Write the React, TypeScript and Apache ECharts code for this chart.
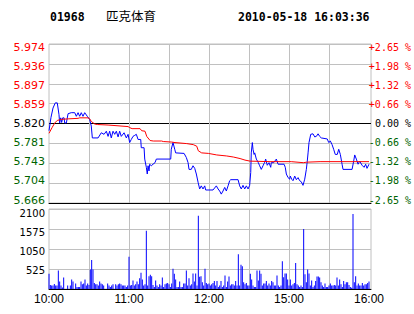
import React, { useEffect, useRef } from 'react';
import * as echarts from 'echarts';

const STOCK_CODE = '01968';
const STOCK_NAME = '匹克体育';
const TIMESTAMP = '2010-05-18 16:03:36';
const PREV_CLOSE = 5.82;
const PCT_RANGE = 2.65;
const PCT_STEP = 0.6625;

const PRICE_TICK_LABELS = ['5.666', '5.704', '5.743', '5.781', '5.820', '5.859', '5.897', '5.936', '5.974'];
const PCT_TICK_LABELS = ['-2.65 %', '-1.98 %', '-1.32 %', '-0.66 %', '0.00 %', '+0.66 %', '+1.32 %', '+1.98 %', '+2.65 %'];
const VOLUME_MAX = 2100;
const VOLUME_STEP = 525;
const VOLUME_TICK_LABELS = ['', '525', '1050', '1575', '2100'];
const TIME_TICK_MINUTES = [0, 60, 120, 180, 240];
const TIME_TICK_LABELS = ['10:00', '11:00', '12:00', '15:00', '16:00'];
const SESSION_MINUTES = 240;

// price line vertices: minute from 10:00 (trading minutes), price
const PRICE_MINUTES = [
  0, 1.5, 3, 4.7, 6.2, 7.5, 8, 8.8, 9.5, 10.3, 11.3, 11.8, 13, 14.3, 16.7, 19.3, 20.5, 21.8, 23, 24.2,
  25.5, 26.8, 28.7, 30.5, 31.7, 32.5, 36.8, 39.2, 41.3, 43, 44.3, 45.5, 46.7, 48, 49.3, 50.5, 51.8, 53, 54.2, 56.3,
  58, 59.3, 60.5, 61.7, 63, 64.3, 65.5, 66.8, 68.8, 69.2, 71.3, 71.8, 73, 73.7, 74.3, 75, 75.5, 76.7, 78, 79.5,
  80.5, 91.3, 91.7, 93, 94.3, 95, 101.3, 103, 104.3, 105, 106.7, 108, 109.3, 110.5, 111.8, 113, 114.2, 115.5, 116.8, 117.5,
  123, 125.5, 126.8, 128, 129.2, 130.5, 131.8, 133, 134.3, 135.5, 136.3, 141.8, 143, 144.2, 145.5, 146.8, 148, 149.3, 150.5, 151.3,
  151.7, 152.5, 153, 153.8, 154.3, 155.5, 156.8, 158, 159.2, 160.5, 161.8, 162.5, 163.7, 165, 166.3, 166.7, 168.5, 170.5, 171.8, 176.3,
  177.2, 178, 179.3, 180.5, 181, 182, 183, 184.3, 185.5, 186.8, 188, 189.2, 190.5, 191.8, 193, 193.7, 194.3, 195, 196.3, 198,
  199.3, 200.5, 201.8, 203, 204.2, 208.7, 209.8, 211, 212.3, 213.5, 214.7, 216.2, 217.3, 218.5, 219.8, 220.5, 227.3, 228.5, 229.3, 230.5,
  231.8, 233, 234.8, 236.3, 237.5, 238.5, 240,
];
const PRICE_VALUES = [
  5.806, 5.832, 5.85, 5.86, 5.86, 5.837, 5.821, 5.831, 5.822, 5.831, 5.831, 5.821, 5.821, 5.839, 5.841, 5.841, 5.834, 5.841, 5.834, 5.841,
  5.834, 5.841, 5.834, 5.828, 5.815, 5.792, 5.792, 5.802, 5.799, 5.805, 5.795, 5.805, 5.792, 5.805, 5.799, 5.805, 5.794, 5.805, 5.795, 5.802,
  5.792, 5.799, 5.783, 5.789, 5.795, 5.797, 5.799, 5.789, 5.789, 5.773, 5.773, 5.751, 5.735, 5.722, 5.738, 5.728, 5.741, 5.738, 5.741, 5.744,
  5.751, 5.751, 5.77, 5.783, 5.77, 5.763, 5.762, 5.754, 5.744, 5.731, 5.731, 5.738, 5.733, 5.722, 5.706, 5.693, 5.699, 5.693, 5.699, 5.691,
  5.691, 5.699, 5.693, 5.689, 5.683, 5.689, 5.696, 5.689, 5.699, 5.709, 5.711, 5.711, 5.699, 5.693, 5.7, 5.693, 5.699, 5.693, 5.7, 5.725,
  5.763, 5.783, 5.77, 5.76, 5.763, 5.751, 5.745, 5.738, 5.731, 5.738, 5.745, 5.751, 5.739, 5.744, 5.735, 5.744, 5.744, 5.751, 5.741, 5.741,
  5.735, 5.722, 5.715, 5.712, 5.718, 5.712, 5.709, 5.718, 5.711, 5.715, 5.709, 5.707, 5.7, 5.712, 5.731, 5.747, 5.763, 5.783, 5.799, 5.8,
  5.794, 5.795, 5.8, 5.795, 5.792, 5.79, 5.783, 5.786, 5.779, 5.77, 5.76, 5.76, 5.77, 5.76, 5.741, 5.731, 5.731, 5.747, 5.759, 5.751,
  5.741, 5.747, 5.739, 5.735, 5.741, 5.733, 5.741,
];

// average price line vertices
const AVG_MINUTES = [
  0, 2.3, 4.3, 6.2, 9.2, 14.3, 21.8, 23, 29.3, 30.5, 31.7, 34.3, 36.2, 44.3, 59.3, 60.5, 62.3, 68.3, 69.5, 72,
  73.3, 75.8, 78.2, 84.5, 85.7, 92, 94.5, 103.3, 108.2, 110.8, 112, 114.5, 119.5, 125.8, 133.3, 138.2, 143.3, 147, 150.8, 165.8,
  181.7, 190.7, 193.3, 203.3, 240,
];
const AVG_VALUES = [
  5.801, 5.812, 5.821, 5.826, 5.828, 5.829, 5.83, 5.831, 5.831, 5.829, 5.824, 5.819, 5.818, 5.817, 5.814, 5.812, 5.81, 5.81, 5.806, 5.805,
  5.795, 5.787, 5.786, 5.786, 5.785, 5.784, 5.783, 5.781, 5.779, 5.776, 5.767, 5.763, 5.762, 5.759, 5.757, 5.755, 5.752, 5.749, 5.747, 5.746,
  5.746, 5.744, 5.745, 5.746, 5.746,
];

// volume per trading minute (index 0 = 10:00)
const VOLUMES = [
  400, 106, 89, 89, 133, 89, 89, 487, 195, 89,
  40, 301, 0, 0, 89, 0, 89, 248, 195, 0,
  142, 53, 53, 53, 195, 124, 142, 248, 89, 142,
  106, 514, 760, 514, 160, 124, 124, 89, 195, 142,
  124, 89, 0, 0, 142, 89, 53, 89, 124, 0,
  124, 89, 124, 142, 124, 89, 89, 89, 53, 89,
  848, 89, 106, 221, 89, 124, 195, 124, 283, 425,
  248, 89, 124, 1530, 89, 337, 372, 337, 106, 53,
  221, 89, 53, 124, 89, 301, 53, 124, 142, 160,
  124, 53, 142, 531, 400, 248, 53, 53, 195, 53,
  53, 142, 142, 487, 89, 283, 89, 124, 407, 195,
  407, 89, 1920, 319, 337, 177, 89, 531, 160, 124,
  142, 89, 124, 160, 213, 89, 213, 53, 89, 213,
  53, 89, 354, 53, 195, 328, 89, 124, 124, 89,
  213, 89, 913, 89, 638, 594, 177, 124, 160, 89,
  89, 399, 248, 89, 53, 53, 487, 221, 487, 399,
  89, 142, 142, 213, 89, 142, 89, 213, 177, 89,
  89, 354, 89, 53, 89, 726, 310, 407, 407, 248,
  89, 248, 89, 124, 160, 680, 124, 89, 53, 89,
  53, 1575, 390, 177, 514, 407, 89, 221, 53, 89,
  213, 328, 328, 301, 177, 89, 53, 142, 53, 53,
  89, 142, 89, 89, 106, 89, 301, 89, 248, 124,
  53, 213, 124, 177, 177, 106, 53, 30, 1970, 177,
  337, 89, 142, 89, 89, 160, 89, 124, 124, 160, 195,
];

const GRAY = '#C0C0C0';
const RED = '#FF0000';
const GREEN = '#006400';
const BLUE = '#0000FF';
const BLACK = '#000000';
const X_MAX = 241.5;

const toPct = (p: number) => (p / PREV_CLOSE - 1) * 100;
const tickIdx = (v: number) => Math.round(v / PCT_STEP) + 4;
const cls = (i: number) => (i > 4 ? 'up' : i < 4 ? 'dn' : 'eq');
const rich = (fontFamily: string, fontSize: number) => ({
  up: { color: RED, fontFamily, fontSize },
  dn: { color: GREEN, fontFamily, fontSize },
  eq: { color: BLACK, fontFamily, fontSize },
});

export default function App() {
  const ref = useRef<HTMLDivElement>(null);
  useEffect(() => {
    if (!ref.current) return;
    const chart = echarts.init(ref.current, null, { renderer: 'svg' });
    const hiddenX = (gridIndex: number) => ({ type: 'value', gridIndex, min: 0, max: X_MAX, show: false });
    const option: any = {
      animation: false,
      backgroundColor: '#FFFFFF',
      graphic: [
        { type: 'text', x: 50, y: 16.5, silent: true,
          style: { text: STOCK_CODE, fontFamily: 'DejaVu Sans Mono', fontWeight: 'bold', fontSize: 11.5, fill: BLACK, verticalAlign: 'middle' } },
        { type: 'text', x: 106, y: 15.5, silent: true,
          style: { text: STOCK_NAME, fontFamily: 'Noto Sans CJK SC', fontSize: 12.5, fill: BLACK, verticalAlign: 'middle' } },
        { type: 'text', x: 238, y: 16.5, silent: true,
          style: { text: TIMESTAMP, fontFamily: 'DejaVu Sans Mono', fontWeight: 'bold', fontSize: 11.5, fill: BLACK, verticalAlign: 'middle' } },
      ],
      grid: [
        { left: 49, top: 44, width: 322, height: 159, show: true, borderColor: GRAY, borderWidth: 1 },
        { left: 49, top: 209, width: 322, height: 80, show: true, borderColor: GRAY, borderWidth: 1 },
        { left: 49, top: 47.6, width: 322, height: 152.4 },
        { left: 49, top: 213.3, width: 322, height: 76 },
        { left: 49, top: 44, width: 320, height: 159 },
        { left: 49, top: 209, width: 320, height: 80 },
      ],
      xAxis: [
        { type: 'value', gridIndex: 0, min: 0, max: X_MAX,
          axisLine: { show: true, onZero: false, lineStyle: { color: BLACK, width: 1 } },
          axisTick: { show: false }, axisLabel: { show: false }, splitLine: { show: false } },
        { type: 'value', gridIndex: 1, min: 0, max: X_MAX, interval: 30,
          axisLine: { show: true, onZero: false, lineStyle: { color: BLACK, width: 1 } },
          axisTick: { show: false }, splitLine: { show: false },
          axisLabel: {
            show: true, margin: 4, color: BLACK, fontFamily: 'Liberation Sans', fontSize: 12,
            formatter: (v: number) => {
              const r = Math.round(v);
              const i = TIME_TICK_MINUTES.indexOf(r);
              return i >= 0 && Math.abs(v - r) < 1e-6 ? TIME_TICK_LABELS[i] : '';
            },
          } },
        hiddenX(2),
        hiddenX(3),
        { type: 'value', gridIndex: 4, min: 0, max: SESSION_MINUTES, interval: 30,
          axisLine: { show: false }, axisTick: { show: false }, axisLabel: { show: false },
          splitLine: { show: true, showMinLine: false, showMaxLine: false, lineStyle: { color: GRAY, width: 1 } } },
        { type: 'value', gridIndex: 5, min: 0, max: SESSION_MINUTES, interval: 30,
          axisLine: { show: false }, axisTick: { show: false }, axisLabel: { show: false },
          splitLine: { show: true, showMinLine: false, showMaxLine: false, lineStyle: { color: GRAY, width: 1 } } },
      ],
      yAxis: [
        { type: 'value', gridIndex: 0, min: -PCT_RANGE, max: PCT_RANGE, interval: PCT_STEP,
          axisLine: { show: false }, axisTick: { show: false }, axisLabel: { show: false },
          splitLine: { show: true, lineStyle: { width: 1, color: [BLACK, GRAY, GRAY, GRAY, BLACK, GRAY, GRAY, GRAY, GRAY] } } },
        { type: 'value', gridIndex: 1, min: 0, max: VOLUME_MAX, interval: VOLUME_STEP,
          axisLine: { show: false }, axisTick: { show: false }, axisLabel: { show: false },
          splitLine: { show: true, lineStyle: { width: 1, color: [BLACK, GRAY, GRAY, GRAY, GRAY] } } },
        { type: 'value', gridIndex: 2, position: 'left', min: -PCT_RANGE, max: PCT_RANGE, interval: PCT_STEP,
          axisLine: { show: false }, axisTick: { show: false }, splitLine: { show: false },
          axisLabel: {
            margin: 4, fontFamily: 'DejaVu Sans', fontSize: 11,
            formatter: (v: number) => { const i = tickIdx(v); return `{${cls(i)}|${PRICE_TICK_LABELS[i]}}`; },
            rich: rich('DejaVu Sans', 11),
          } },
        { type: 'value', gridIndex: 2, position: 'right', min: -PCT_RANGE, max: PCT_RANGE, interval: PCT_STEP,
          axisLine: { show: false }, axisTick: { show: false }, splitLine: { show: false },
          axisLabel: {
            margin: 42, align: 'right', fontFamily: 'DejaVu Sans Mono', fontSize: 10,
            formatter: (v: number) => { const i = tickIdx(v); return `{${cls(i)}|${PCT_TICK_LABELS[i]}}`; },
            rich: rich('DejaVu Sans Mono', 10),
          } },
        { type: 'value', gridIndex: 3, position: 'left', min: 0, max: VOLUME_MAX, interval: VOLUME_STEP,
          axisLine: { show: false }, axisTick: { show: false }, splitLine: { show: false },
          axisLabel: {
            margin: 4, color: BLACK, fontFamily: 'DejaVu Sans', fontSize: 10,
            formatter: (v: number) => VOLUME_TICK_LABELS[Math.round(v / VOLUME_STEP)] || '',
          } },
        { type: 'value', gridIndex: 4, show: false, min: 0, max: 1 },
        { type: 'value', gridIndex: 5, show: false, min: 0, max: 1 },
      ],
      series: [
        { type: 'line', xAxisIndex: 0, yAxisIndex: 0, symbol: 'none', silent: true, z: 3,
          data: PRICE_MINUTES.map((m, i) => [m, toPct(PRICE_VALUES[i])]),
          lineStyle: { color: BLUE, width: 1 }, itemStyle: { color: BLUE } },
        { type: 'line', xAxisIndex: 0, yAxisIndex: 0, symbol: 'none', silent: true, z: 4,
          data: AVG_MINUTES.map((m, i) => [m, toPct(AVG_VALUES[i])]),
          lineStyle: { color: RED, width: 1 }, itemStyle: { color: RED } },
        { type: 'bar', xAxisIndex: 1, yAxisIndex: 1, silent: true, barWidth: 1,
          data: VOLUMES.map((v, i) => [i, v]),
          itemStyle: { color: BLUE } },
      ],
    };
    chart.setOption(option);
    return () => chart.dispose();
  }, []);
  return (
    <div
      ref={ref}
      style={{ position: 'fixed', left: 0, top: 0, width: 414, height: 314, background: '#FFFFFF' }}
    />
  );
}
